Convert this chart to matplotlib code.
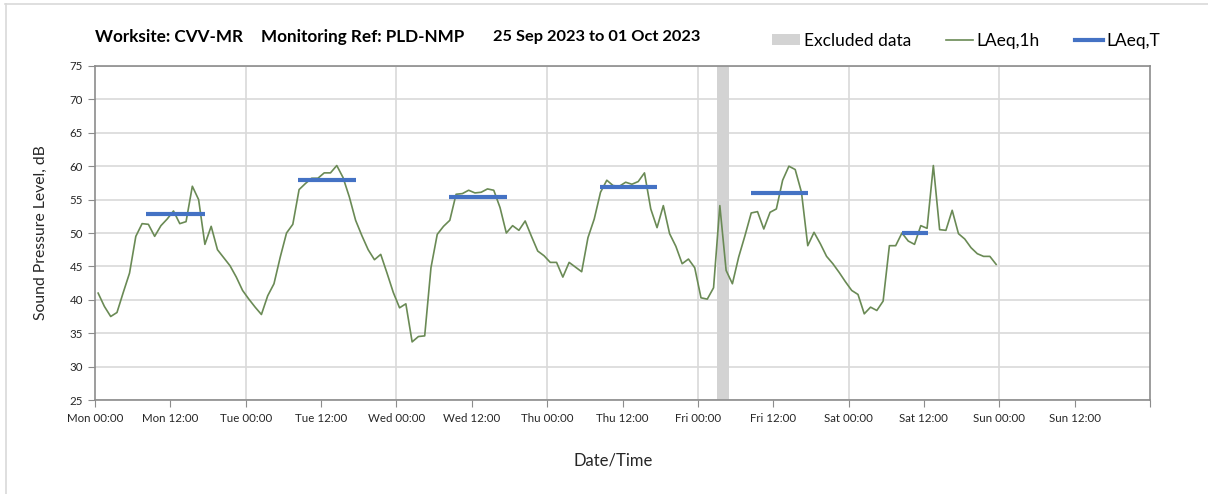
import numpy as np
import matplotlib.pyplot as plt
from matplotlib.lines import Line2D
from matplotlib.patches import Patch

plt.rcParams['font.family'] = ['Lato', 'DejaVu Sans']

# hourly LAeq,1h, Mon 00:00 .. Sat 23:00
laeq_1h = [
    41.0, 39.0, 37.5, 38.1, 41.1, 44.0, 49.5, 51.4, 51.3, 49.5, 51.1, 52.1,
    53.3, 51.4, 51.7, 57.0, 55.0, 48.3, 51.0, 47.5, 46.3, 45.1, 43.4, 41.4,
    40.1, 38.9, 37.8, 40.6, 42.4, 46.4, 50.0, 51.3, 56.5, 57.4, 58.2, 58.2,
    59.0, 59.0, 60.1, 58.3, 55.4, 51.9, 49.6, 47.5, 46.0, 46.8, 44.0, 41.1,
    38.8, 39.4, 33.7, 34.5, 34.6, 44.8, 49.8, 51.0, 51.9, 55.8, 55.9, 56.4,
    56.0, 56.1, 56.6, 56.4, 53.8, 50.0, 51.1, 50.4, 51.8, 49.5, 47.3, 46.6,
    45.6, 45.6, 43.4, 45.6, 44.9, 44.2, 49.3, 52.1, 56.1, 57.9, 57.1, 57.0,
    57.6, 57.3, 57.7, 59.0, 53.6, 50.8, 54.1, 49.9, 48.0, 45.4, 46.1, 44.8,
    40.3, 40.1, 41.8, 54.1, 44.4, 42.4, 46.4, 49.6, 53.0, 53.2, 50.6, 53.1,
    53.6, 57.9, 60.0, 59.5, 56.1, 48.1, 50.1, 48.4, 46.5, 45.4, 44.1, 42.7,
    41.4, 40.8, 37.9, 38.9, 38.4, 39.8, 48.1, 48.1, 50.0, 48.8, 48.3, 51.1,
    50.7, 60.1, 50.5, 50.4, 53.4, 49.9, 49.1, 47.8, 46.9, 46.5, 46.5, 45.3,
]
hours = np.arange(len(laeq_1h)) + 0.5

# LAeq,T daytime periods (hours from Mon 00:00)
t_start = [8.2, 32.3, 56.3, 80.35, 104.4, 128.5]
t_end = [17.5, 41.6, 65.6, 89.55, 113.6, 132.7]
laeq_t = [52.85, 57.95, 55.45, 56.85, 55.95, 50.0]

excluded = (99.0, 101.0)

days = ["Mon", "Tue", "Wed", "Thu", "Fri", "Sat", "Sun"]
tick_labels = [f"{d} {t}" for d in days for t in ("00:00", "12:00")] + [""]

green = "#6a8a55"
blue = "#4472c4"
grid_c = "#d9d9d9"
spine_c = "#8c8c8c"

fig = plt.figure(figsize=(12.08, 4.94), dpi=100)
ax = fig.add_axes([95 / 1208, 1 - 400 / 494, 1055 / 1208, 334 / 494])

ax.axvspan(*excluded, color="#d3d3d3", lw=0, zorder=1)
ax.plot(hours, laeq_1h, color=green, lw=1.2, zorder=3)
for s, e, v in zip(t_start, t_end, laeq_t):
    ax.plot([s, e], [v, v], color=blue, lw=3, solid_capstyle="butt", zorder=4)

ax.set_xlim(0, 168)
ax.set_ylim(25, 75)
ax.set_xticks(np.arange(0, 169, 12))
ax.set_xticklabels(tick_labels)
ax.set_yticks(np.arange(25, 76, 5))
ax.grid(axis="y", color=grid_c, lw=1.2, zorder=0)
for d in range(24, 168, 24):
    ax.axvline(d, color=grid_c, lw=1.2, zorder=0)
ax.set_axisbelow(True)

for sp in ax.spines.values():
    sp.set_color(spine_c)
    sp.set_linewidth(1.2)
ax.tick_params(axis="both", direction="out", length=5, color=spine_c,
               labelsize=8.3, labelcolor="#262626")
ax.tick_params(axis="x", pad=4)

ax.set_ylabel("Sound Pressure Level, dB", fontsize=11.3, labelpad=16, color="#262626")
fig.text(613 / 1208, 1 - 460 / 494, "Date/Time", fontsize=12, ha="center",
         va="center", color="#262626")

ty = 1 - 37 / 494
fig.text(95 / 1208, ty, "Worksite: CVV-MR", fontsize=12.3, fontweight="bold", va="center")
fig.text(261 / 1208, ty, "Monitoring Ref: PLD-NMP", fontsize=12.3, fontweight="bold", va="center")
fig.text(493 / 1208, ty, "25 Sep 2023 to 01 Oct 2023", fontsize=11.8, fontweight="bold", va="center")

handles = [
    Patch(facecolor="#d3d3d3", edgecolor="none", label="Excluded data"),
    Line2D([], [], color=green, lw=1.2, label="LAeq,1h"),
    Line2D([], [], color=blue, lw=3, label="LAeq,T"),
]
fig.legend(handles=handles, loc="center", bbox_to_anchor=(966 / 1208, 1 - 41 / 494),
           ncol=3, frameon=False, fontsize=12.5, handlelength=1.6, handleheight=0.6,
           handletextpad=0.2, columnspacing=2.0)

# light frame on top/left edge
fig.add_artist(Line2D([5 / 1208, 1], [1 - 4.5 / 494] * 2, color=grid_c, lw=1.2))
fig.add_artist(Line2D([5.5 / 1208] * 2, [0, 1 - 4.5 / 494], color=grid_c, lw=1.2))

fig.savefig("out.png", dpi=100)
